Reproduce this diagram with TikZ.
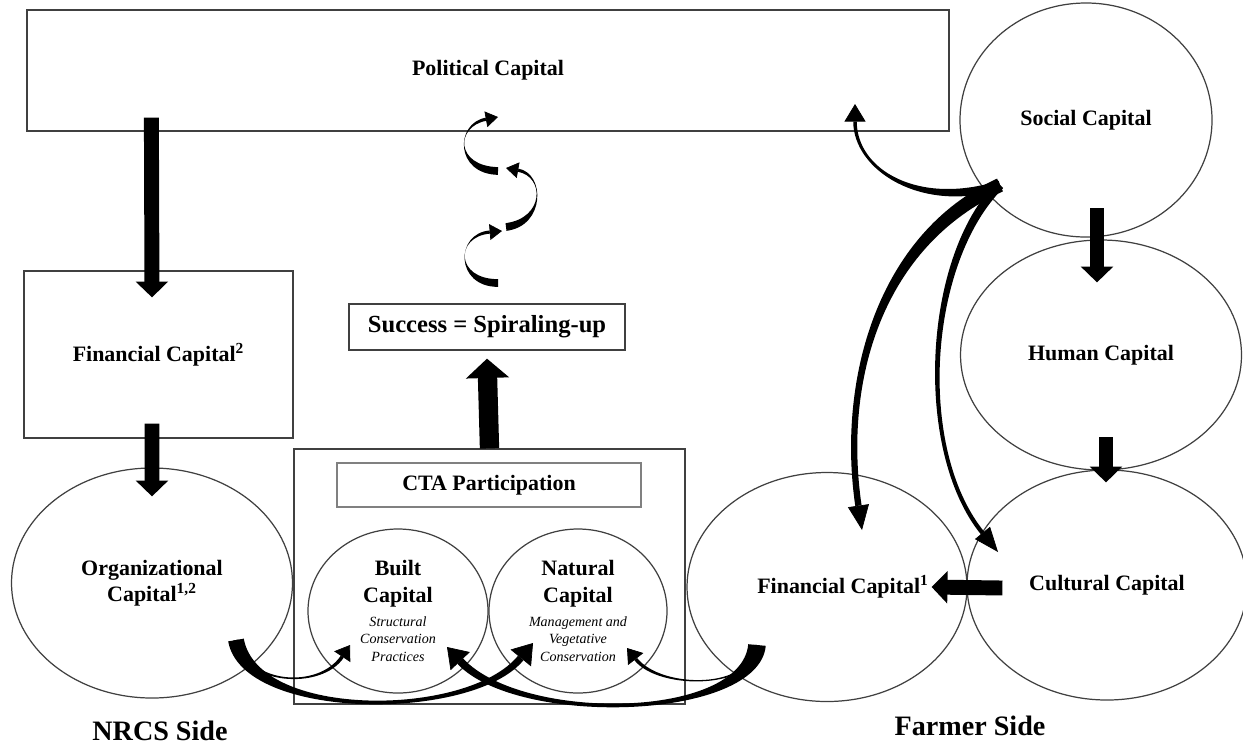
\documentclass[tikz,border=0pt]{standalone}
\usepackage{fontspec}
\setmainfont{Liberation Serif}
\usetikzlibrary{arrows.meta,shapes.geometric,calc}

\tikzset{
  lbl/.style={font=\fontsize{12.5}{15}\selectfont\bfseries, align=center},
  capbox/.style={draw=black!75, line width=0.7pt, rectangle, inner sep=0pt, lbl},
  capell/.style={draw=black!75, line width=0.7pt, ellipse, inner sep=0pt, lbl},
  side/.style={font=\fontsize{16}{18}\selectfont\bfseries},
  bigarrow/.style={line width=8.5pt, -{Triangle[length=9pt,width=18pt]}},
}

% fleche effilee : depart, ctrl1, ctrl2, pointe, demi-largeur depart, demi-largeur fin, longueur et largeur de pointe
\newcommand{\flux}[8]{%
  \path (#4) coordinate (fxt) ($(#4)!#7!(#3)$) coordinate (fxb);
  \fill ($(#1)!#5!90:(#2)$) .. controls ($(#2)!#5!-90:(#1)$) and ($(#3)!#6!90:(fxb)$) .. ($(fxb)!#6!-90:(#3)$)
     -- ($(fxb)!#6!90:(#3)$) .. controls ($(#3)!#6!-90:(fxb)$) and ($(#2)!#5!90:(#1)$) .. ($(#1)!#5!-90:(#2)$) -- cycle;
  \draw[line width=0.4pt, -{Triangle[length=#7,width=#8]}] (fxb) -- (fxt);
}

\begin{document}
\begin{tikzpicture}
    \useasboundingbox (0,0) rectangle (24.86,-14.94);

    % Cote NRCS
    \node[capbox, minimum width=18.44cm, minimum height=2.42cm] (pol) at (9.76,-1.41) {Political Capital};
    \node[capbox, minimum width=5.38cm, minimum height=3.34cm] (fin2) at (3.17,-7.09) {Financial Capital\textsuperscript{2}};
    \node[capell, minimum width=5.62cm, minimum height=4.6cm] (org) at (3.04,-11.66) {Organizational\\Capital\textsuperscript{1,2}};

    % Participation CTA
    \node[capbox, minimum width=7.82cm, minimum height=5.1cm] (cta) at (9.79,-11.53) {};
    \node[capbox, draw=black!50, minimum width=6.08cm, minimum height=0.88cm] (ctap) at (9.78,-9.7) {CTA Participation};
    \node[capell, minimum width=3.6cm, minimum height=3.28cm] (built) at (7.96,-12.22)
        {Built\\Capital\\[-1.5pt]{\fontsize{8}{9}\selectfont\mdseries\itshape Structural}\\[-5pt]{\fontsize{8}{9}\selectfont\mdseries\itshape Conservation}\\[-5pt]{\fontsize{8}{9}\selectfont\mdseries\itshape Practices}};
    \node[capell, minimum width=3.56cm, minimum height=3.28cm] (natural) at (11.56,-12.22)
        {Natural\\Capital\\[-1.5pt]{\fontsize{8}{9}\selectfont\mdseries\itshape Management and}\\[-5pt]{\fontsize{8}{9}\selectfont\mdseries\itshape Vegetative}\\[-5pt]{\fontsize{8}{9}\selectfont\mdseries\itshape Conservation}};
    \node[capbox, font=\fontsize{14}{16}\selectfont\bfseries, minimum width=5.52cm, minimum height=0.92cm] (success) at (9.74,-6.54) {Success = Spiraling-up};

    % Cote agriculteur
    \node[capell, minimum width=5.04cm, minimum height=4.68cm] (social) at (21.72,-2.4) {Social Capital};
    \node[capell, minimum width=5.62cm, minimum height=4.6cm] (human) at (22.02,-7.1) {Human Capital};
    \node[capell, minimum width=5.6cm, minimum height=4.6cm] (cult) at (22.14,-11.7) {Cultural Capital};
    \node[capell, minimum width=5.6cm, minimum height=4.58cm] (finf) at (16.54,-11.74) {\makebox[0pt]{\hspace*{0.64cm}Financial Capital\textsuperscript{1}}};

    \node[side] (nrcs) at (3.2,-14.62) {NRCS Side};
    \node[side] (farmer) at (19.4,-14.52) {Farmer Side};

    % Fleches droites
    \draw[bigarrow] ([shift={(2.5,0.28)}]pol.south west) -- ([shift={(-0.13,-0.54)}]fin2.north);
    \draw[bigarrow] ([shift={(-0.13,0.3)}]fin2.south) -- ([yshift=-0.58cm]org.north);
    \draw[line width=11pt, -{Triangle[length=11pt,width=24pt]}] (cta.north) -- ([yshift=-0.16cm]success.south);
    \draw[bigarrow] ([shift={(-0.08,0.62)}]human.north) -- ([shift={(-0.08,-0.86)}]human.north);
    \draw[bigarrow] ([shift={(-0.02,0.64)}]cult.north) -- ([shift={(-0.02,-0.26)}]cult.north);
    \draw[bigarrow] ([shift={(0.72,-0.06)}]cult.west) -- ([xshift=-0.72cm]finf.east);

    % Fleches courbes du capital social
    \coordinate (soctail) at ([shift={(-1.72,-1.3)}]social.center);
    \coordinate (polin) at ([shift={(7.34,-0.67)}]pol.center);
    \coordinate (finfin) at ([shift={(0.7,1.14)}]finf.center);
    \coordinate (cultin) at ([shift={(-2.18,0.66)}]cult.center);
    \flux{soctail}{18.4,-4.2}{17.1,-3.4}{polin}{2.5pt}{1pt}{10pt}{12pt}
    \flux{soctail}{17.6,-4.8}{16.8,-7.6}{finfin}{4pt}{1.8pt}{14pt}{12pt}
    \flux{soctail}{18.5,-5.2}{18.3,-9}{cultin}{2.5pt}{1.2pt}{14pt}{11pt}

    % Fleches courbes vers CTA
    \coordinate (orgtail) at ([shift={(1.68,-1.14)}]org.center);
    \coordinate (fintail) at ([shift={(-1.4,-1.16)}]finf.center);
    \coordinate (builtL) at ([shift={(-0.96,-0.68)}]built.center);
    \coordinate (builtR) at ([shift={(0.98,-0.72)}]built.center);
    \coordinate (natL) at ([shift={(-0.9,-0.64)}]natural.center);
    \coordinate (natR) at ([shift={(0.98,-0.74)}]natural.center);
    \flux{orgtail}{4.9,-13.7}{6.4,-13.8}{builtL}{1.5pt}{1pt}{8pt}{11pt}
    \flux{orgtail}{5,-14.4}{9.4,-14.4}{natL}{4.5pt}{2pt}{11pt}{15pt}
    \flux{fintail}{15.1,-13.8}{13.2,-13.8}{natR}{1.5pt}{1pt}{8pt}{11pt}
    \flux{fintail}{15,-14.4}{10.4,-14.5}{builtR}{5pt}{2.2pt}{11pt}{15pt}

    % Spirale
    \flux{9.96,-5.66}{9.1,-5.66}{9.1,-4.7}{10.04,-4.62}{2.2pt}{0.9pt}{7pt}{9pt}
    \flux{10.12,-4.54}{10.9,-4.44}{10.9,-3.5}{10.12,-3.36}{2.2pt}{0.9pt}{7pt}{9pt}
    \flux{9.96,-3.42}{9.1,-3.4}{9.1,-2.5}{9.96,-2.34}{2.2pt}{0.9pt}{7pt}{9pt}
\end{tikzpicture}
\end{document}
